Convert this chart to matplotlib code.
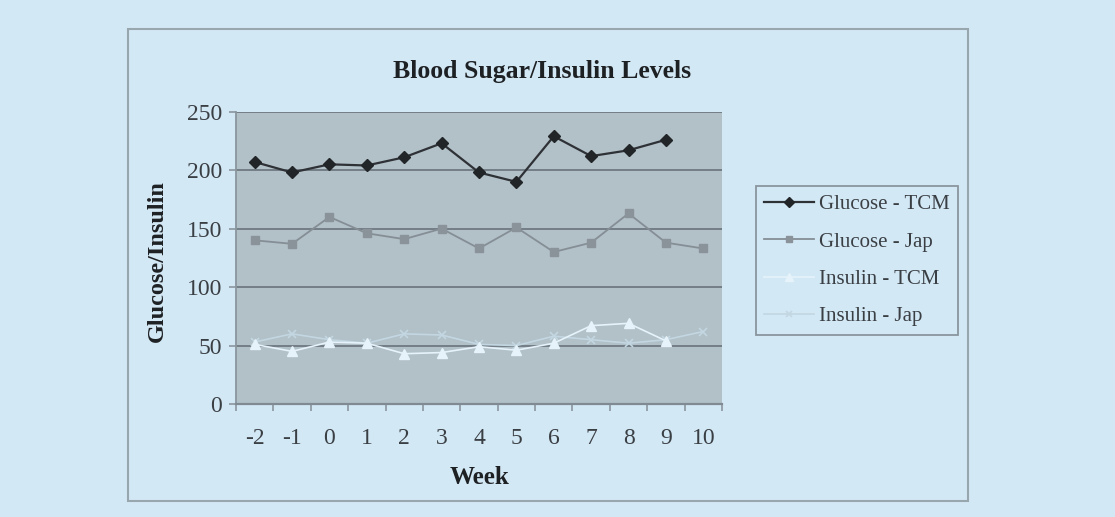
import matplotlib
matplotlib.use("Agg")
import matplotlib.pyplot as plt
from matplotlib.patches import Rectangle
from matplotlib.ticker import FixedLocator, NullFormatter

weeks = ["-2", "-1", "0", "1", "2", "3", "4", "5", "6", "7", "8", "9", "10"]
glucose_tcm = [207, 198, 205, 204, 211, 223, 198, 190, 229, 212, 217, 226]
glucose_jap = [140, 137, 160, 146, 141, 150, 133, 151, 130, 138, 163, 138, 133]
insulin_tcm = [51, 45, 53, 52, 43, 44, 49, 46, 52, 67, 69, 54]
insulin_jap = [53, 60, 55, 52, 60, 59, 51, 50, 58, 55, 52, 55, 62]

BG = "#d3e8f5"
PLOT_BG = "#b2c0c8"
GRID = "#6f7880"
SERIF = ["Liberation Serif", "DejaVu Serif"]

plt.rcParams["font.family"] = SERIF

fig = plt.figure(figsize=(11.15, 5.17), dpi=100)
fig.patch.set_facecolor(BG)

W, H = 1115, 517
# chart frame
fig.patches.append(Rectangle((128 / W, 1 - 501 / H), (968 - 128) / W, (501 - 29) / H,
                             transform=fig.transFigure, fill=False,
                             edgecolor="#98a6ae", linewidth=1.5, zorder=0))

ax = fig.add_axes([236 / W, 1 - 404 / H, (722 - 236) / W, (404 - 111.7) / H])
ax.set_facecolor(PLOT_BG)

x_all = list(range(len(weeks)))

ax.plot(x_all[:len(insulin_jap)], insulin_jap, color="#c3d7e2", lw=1.2,
        marker="x", ms=6, mew=1.2, label="Insulin - Jap", zorder=3)
ax.plot(x_all[:len(insulin_tcm)], insulin_tcm, color="#e6f3fa", lw=1.2,
        marker="^", ms=7, mfc="#e6f3fa", mec="#e6f3fa", label="Insulin - TCM", zorder=4)
ax.plot(x_all[:len(glucose_jap)], glucose_jap, color="#858e95", lw=1.3,
        marker="s", ms=6, mfc="#8a939a", mec="#8a939a", label="Glucose - Jap", zorder=5)
ax.plot(x_all[:len(glucose_tcm)], glucose_tcm, color="#2e3236", lw=1.6,
        marker="D", ms=6.5, mfc="#222528", mec="#222528", label="Glucose - TCM", zorder=6)

ax.set_xlim(-0.5, len(weeks) - 0.5)
ax.set_ylim(0, 250)
ax.set_yticks([0, 50, 100, 150, 200, 250])
ax.yaxis.grid(True, color=GRID, lw=1.3)
ax.set_axisbelow(True)

ax.set_xticks(x_all)
ax.set_xticklabels(weeks)
ax.xaxis.set_minor_locator(FixedLocator([i - 0.5 for i in range(len(weeks) + 1)]))
ax.xaxis.set_minor_formatter(NullFormatter())
ax.tick_params(axis="x", which="major", length=0, pad=17, labelsize=17, labelcolor="#3a3f44")
ax.tick_params(axis="x", which="minor", length=5, color="#8a969e", width=1.2, direction="out")
ax.tick_params(axis="y", length=5, color="#8a969e", width=1.2, pad=5,
               labelsize=17, labelcolor="#3a3f44")

for s in ["top", "right"]:
    ax.spines[s].set_visible(False)
ax.spines["left"].set_color("#8a969e")
ax.spines["left"].set_linewidth(1.3)
ax.spines["bottom"].set_color("#7f8a92")
ax.spines["bottom"].set_linewidth(1.6)

fig.text(542 / W, 1 - 71 / H, "Blood Sugar/Insulin Levels", ha="center", va="center",
         fontsize=18.5, fontweight="bold", color="#1e2124")
fig.text(157.5 / W, 1 - 261 / H, "Glucose/Insulin", ha="center", va="center", rotation=90,
         fontsize=17.5, fontweight="bold", color="#1e2124")
fig.text(479 / W, 1 - 478 / H, "Week", ha="center", va="center",
         fontsize=18, fontweight="bold", color="#1e2124")

handles, labels = ax.get_legend_handles_labels()
order = ["Glucose - TCM", "Glucose - Jap", "Insulin - TCM", "Insulin - Jap"]
hmap = dict(zip(labels, handles))
leg = fig.legend([hmap[o] for o in order], order, loc="center",
                 bbox_to_anchor=(857 / W, 1 - 260.5 / H), frameon=True, fancybox=False,
                 edgecolor="#8a969e", facecolor=BG, framealpha=1, fontsize=15,
                 handlelength=2.4, handletextpad=0.25, labelspacing=0.85,
                 borderpad=0.4, borderaxespad=0, markerscale=0.8)
leg.get_frame().set_linewidth(1.3)
for t in leg.get_texts():
    t.set_color("#3a3f44")

fig.savefig("out.png", dpi=100, facecolor=BG)
